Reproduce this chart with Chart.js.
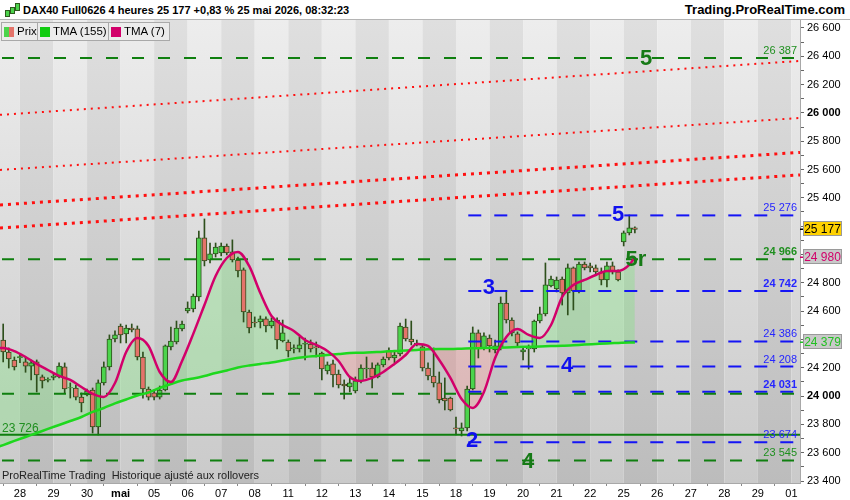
<!DOCTYPE html>
<html>
<head>
<meta charset="utf-8">
<script src="https://cdn.jsdelivr.net/npm/chart.js@4.4.1/dist/chart.umd.min.js"></script>
<style>
body { margin: 0; background: #fff; font-family: Arial, "Liberation Sans", sans-serif; }
#wrap { position: relative; width: 850px; height: 500px; overflow: hidden; }
canvas { position: absolute; left: 0; top: 0; }
#head { position: absolute; left: 0; top: 0; width: 850px; height: 19px; background: #fff; border-bottom: 1px solid #b4b4b4; }
#title { position: absolute; left: 23px; top: 4px; font: bold 11px Arial, "Liberation Sans", sans-serif; color: #000; }
#site { position: absolute; right: 5px; top: 2px; font: bold 13px Arial, "Liberation Sans", sans-serif; color: #000; }
.ic { position: absolute; width: 3px; background: #4cd44c; border: 1px solid #2e5a1e; }
.leg { position: absolute; top: 22px; height: 17px; background: rgba(236,236,236,0.9); border: 1px solid #a9a9a9; font: 11.5px Arial, "Liberation Sans", sans-serif; line-height: 17px; color: #000; }
.sq { position: absolute; left: 2px; top: 4px; width: 10px; height: 10px; }
.leg span { position: absolute; left: 15px; top: 0; white-space: nowrap; }
#note { position: absolute; left: 2px; top: 469px; font: 11px Arial, "Liberation Sans", sans-serif; color: #222; white-space: pre; }
</style>
</head>
<body>
<div id="wrap">
<canvas id="c" width="850" height="500"></canvas>
<div id="head">
  <div class="ic" style="left:5px;top:10px;height:5px"></div>
  <div class="ic" style="left:10px;top:7px;height:5px"></div>
  <div class="ic" style="left:15px;top:3px;height:6px"></div>
  <div id="title">DAX40 Full0626 4 heures 25 177 +0,83 % 25 mai 2026, 08:32:23</div>
  <div id="site">Trading.ProRealTime.com</div>
</div>
<div class="leg" style="left:1px;width:35px"><div class="sq" style="background:linear-gradient(90deg,#4cd44c 50%,#e4736a 50%)"></div><span>Prix</span></div>
<div class="leg" style="left:37px;width:70px"><div class="sq" style="background:#11cc11"></div><span>TMA (155)</span></div>
<div class="leg" style="left:108px;width:60px"><div class="sq" style="background:#d2006a"></div><span>TMA (7)</span></div>
<div id="note">ProRealTime Trading  Historique ajusté aux rollovers</div>
</div>
<script>
// 4h candles, index 0 = 27 avr 12:00, 6 candles per trading day
const opens = [
  24396,24311,24255,24272,24241,24212,24241,24135,24112,24131,
  24135,24206,24057,24057,23993,24008,24043,23782,24093,24206,
  24403,24495,24439,24481,24474,24276,24050,24022,23993,24043,
  24347,24382,24474,24601,24615,24700,25117,24961,25004,25011,
  25060,25018,24961,24891,24594,24523,24523,24545,24495,24537,
  24389,24382,24333,24333,24366,24368,24347,24304,24177,24227,
  24156,24085,24064,24036,24107,24191,24198,24135,24220,24319,
  24269,24297,24488,24403,24375,24347,24198,24142,24093,23986,
  23986,23775,23754,23775,24050,24446,24340,24410,24326,24347,
  24657,24537,24439,24311,24333,24333,24530,24580,24778,24756,
  24827,24728,24905,24742,24933,24919,24905,24877,24820,24919,
  24877,25089,25152,25188]
const highs = [
  24509,24340,24276,24290,24276,24255,24255,24149,24128,24156,
  24234,24234,24093,24078,24022,24050,24057,24114,24241,24432,
  24460,24509,24502,24509,24495,24311,24064,24043,24071,24361,
  24488,24530,24530,24665,24721,25166,25251,25081,25081,25081,
  25074,25103,24982,24905,24608,24559,24566,24559,24552,24552,
  24537,24396,24361,24418,24410,24396,24382,24311,24241,24255,
  24184,24114,24128,24135,24220,24276,24234,24234,24276,24340,
  24311,24516,24544,24530,24396,24361,24234,24340,24170,24128,
  23993,23852,23810,24071,24488,24467,24446,24432,24396,24700,
  24735,24552,24453,24347,24361,24537,24629,24940,24848,24841,
  24841,24933,24912,24947,24947,24940,24926,24905,24947,24947,
  24891,25166,25279,25195]
const lows = [
  24241,24198,24184,24235,24168,24114,24029,24057,24100,24114,
  24128,24022,23986,23972,23888,24001,23739,23725,24078,24184,
  24382,24375,24375,24453,24255,23986,23972,23972,23979,24036,
  24326,24368,24460,24587,24594,24672,24919,24940,24982,24990,
  24997,24947,24841,24523,24446,24488,24481,24453,24481,24333,
  24382,24276,24304,24311,24255,24311,24276,24114,24156,24064,
  24057,23979,24029,24022,24093,24128,24057,24128,24206,24255,
  24234,24283,24389,24361,24354,24177,24114,24064,23951,23902,
  23895,23725,23718,23754,24043,24269,24326,24311,24304,24326,
  24516,24425,24347,24255,24191,24311,24516,24566,24771,24735,
  24643,24573,24608,24728,24891,24877,24862,24785,24770,24862,
  24813,25060,25138,25152]
const closes = [
  24311,24262,24206,24278,24212,24234,24149,24107,24119,24142,
  24212,24050,24060,23993,23951,24036,23782,24093,24206,24403,
  24432,24432,24481,24467,24276,24050,23993,23993,24043,24354,
  24389,24481,24509,24622,24707,25117,24954,25004,25053,25060,
  25011,24961,24884,24594,24481,24516,24545,24495,24530,24396,
  24446,24319,24340,24361,24373,24333,24340,24191,24220,24149,
  24078,24071,24093,24107,24198,24198,24135,24220,24262,24269,
  24290,24495,24403,24382,24368,24198,24142,24093,23972,23965,
  23902,23768,23775,24050,24446,24340,24425,24354,24354,24657,
  24537,24446,24375,24326,24340,24530,24580,24785,24827,24820,
  24728,24905,24742,24933,24905,24905,24877,24820,24919,24877,
  24820,25152,25188,25177]

// moving averages (candle index -> value)
const tmaX = [-1,0,2,4,6,8,10,12,14,16,18,20,22,24,26,28,30,32,34,36,38,40,42,44,46,48,50,
  52,54,56,58,60,62,64,66,68,70,72,74,76,78,80,82,84,86,88,90,92,94,96,98,100,102,104,106,108,110,112,113]
const tma7 = [24340,24340,24318,24276,24227,24184,24142,24114,24064,24015,23994,24092,24311,24410,24354,
  24170,24099,24248,24439,24643,24848,24975,25018,24919,24728,24566,24502,24460,24396,24361,24318,
  24248,24135,24107,24128,24170,24227,24290,24368,24354,24255,24128,23979,23916,24029,24269,24417,
  24474,24432,24410,24502,24700,24785,24820,24855,24884,24884,24926,24980]
const tma155 = [23640,23654,23683,23711,23739,23768,23796,23824,23852,23888,23916,23948,23976,24004,24025,
  24057,24085,24110,24124,24142,24163,24181,24202,24216,24227,24237,24251,24266,24276,24283,24290,
  24297,24304,24306,24310,24313,24319,24322,24326,24331,24333,24333,24335,24337,24340,24341,24343,
  24346,24348,24350,24353,24355,24359,24364,24368,24372,24375,24378,24379]

// horizontal levels
const greenLevels = [26387, 24966, 24017, 23545]
const greenLabels = [26387, 24966, 23545]
const supportLevel = 23726
const blueLevels = [25276, 24742, 24386, 24208, 24031, 23674]
const boldLabels = [24966, 24742, 24031]
const blueFrom = 83.2

// channel lines: value at left edge, value at right edge
const channelStart = [25986, 25597, 25350, 25187]
const channelEnd = [26367, 25964, 25721, 25562]

// wave counts
const waveText = ['5', '5', '5r', '3', '4', '2', '4']
const waveIdx = [115, 110, 113.2, 86.9, 100.9, 83.9, 93.9]
const wavePrice = [26381, 25279, 24961, 24764, 24213, 23683, 23534]
const waveBlue = [false, true, false, true, true, true, false]

// axes
const dayTicks = [3,9,15,21,27,33,39,45,51,57,63,69,75,81,87,93,99,105,111,117,123,129,135,141]
const dayLabels = ['28','29','30','mai','05','06','07','08','11','12','13','14','15','18','19','20','21','22','25','26','27','28','29','01']
const yTicks = [23400,23500,23600,23700,23800,23900,24000,24100,24200,24300,24400,24500,24600,24700,
  24800,24900,25000,25100,25200,25300,25400,25500,25600,25700,25800,25900,26000,26100,26200,26300,
  26400,26500,26600]
const xMin = -0.57, xMax = 142.54
const yMin = 23386, yMax = 26656

const FONT = 'Arial, "Liberation Sans", sans-serif'
Chart.defaults.font.family = FONT

function fmt(v) {
  return String(Math.round(v)).replace(/\B(?=(\d{3})+(?!\d))/g, ' ')
}

const UP = '#4cd44c', DOWN = '#e4736a', EDGE = '#2e4f1c'
const GREEN_LVL = '#0f7f0f', BLUE_LVL = '#1414f5'

function hline(value, from, color, width, dash, offset) {
  return {
    type: 'line',
    data: [{x: from, y: value}, {x: xMax + 1, y: value}],
    borderColor: color, borderWidth: width,
    borderDash: dash, borderDashOffset: offset || 0, borderCapStyle: 'butt',
    pointRadius: 0, fill: false
  }
}

const datasets = []
datasets.push({
  type: 'line', label: 'TMA (7)',
  data: tmaX.map((x, i) => ({x: x, y: tma7[i]})),
  borderColor: '#d2006a', borderWidth: 2.5, pointRadius: 0,
  cubicInterpolationMode: 'monotone',
  fill: {target: '+1', above: 'rgba(100,235,100,0.27)', below: 'rgba(255,115,115,0.25)'}
})
datasets.push({
  type: 'line', label: 'TMA (155)',
  data: tmaX.map((x, i) => ({x: x, y: tma155[i]})),
  borderColor: '#1ed81e', borderWidth: 2.5, pointRadius: 0,
  cubicInterpolationMode: 'monotone', fill: false
})
greenLevels.forEach(v => datasets.push(hline(v, xMin, GREEN_LVL, 2, [12, 14], 24)))
blueLevels.forEach(v => datasets.push(hline(v, blueFrom, BLUE_LVL, 2, [13, 13], 0)))
datasets.push(hline(supportLevel, xMin, GREEN_LVL, 2, [], 0))
datasets.push({
  type: 'bar', label: 'corps', grouped: false,
  data: opens.map((o, i) => ({x: i, y: [o, closes[i]]})),
  backgroundColor: ctx => closes[ctx.dataIndex] >= opens[ctx.dataIndex] ? UP : DOWN,
  borderColor: EDGE, borderWidth: 1, borderSkipped: false, barThickness: 5
})
datasets.push({
  type: 'bar', label: 'meches', grouped: false,
  data: lows.map((l, i) => ({x: i, y: [l, highs[i]]})),
  backgroundColor: EDGE, borderWidth: 0, barThickness: 1
})
channelStart.forEach((v, i) => datasets.push({
  type: 'line', data: [{x: xMin, y: v}, {x: xMax, y: channelEnd[i]}],
  borderColor: '#ff1010', borderWidth: i < 2 ? 2 : 3,
  borderDash: i < 2 ? [2, 5] : [3, 5], borderCapStyle: 'butt',
  pointRadius: 0, fill: false
}))

const stripes = {
  id: 'stripes',
  beforeDraw(chart) {
    const {ctx, chartArea: a, scales: {x}} = chart
    const light = ctx.createLinearGradient(0, a.top, 0, a.bottom)
    light.addColorStop(0, '#ededed'); light.addColorStop(1, '#cacaca')
    const dark = ctx.createLinearGradient(0, a.top, 0, a.bottom)
    dark.addColorStop(0, '#dfdfdf'); dark.addColorStop(1, '#bcbcbc')
    const edges = [a.left].concat(dayTicks.map(t => x.getPixelForValue(t)), [a.right])
    ctx.save()
    for (let i = 0; i < edges.length - 1; i++) {
      ctx.fillStyle = i % 2 === 0 ? light : dark
      ctx.fillRect(edges[i], a.top, edges[i + 1] - edges[i], a.height)
    }
    ctx.restore()
  }
}

const marks = {
  id: 'marks',
  afterDatasetsDraw(chart) {
    const {ctx, chartArea: a, scales: {x, y}} = chart
    ctx.save()
    ctx.beginPath(); ctx.rect(a.left, a.top, a.width, a.height); ctx.clip()
    ctx.textAlign = 'right'; ctx.textBaseline = 'alphabetic'
    const levelLabel = (v, color) => {
      ctx.font = (boldLabels.includes(v) ? 'bold ' : '') + '11px ' + FONT
      ctx.fillStyle = color
      ctx.fillText(fmt(v), a.right - 3, y.getPixelForValue(v) - 4)
    }
    greenLabels.forEach(v => levelLabel(v, '#1f8f1f'))
    blueLevels.forEach(v => levelLabel(v, '#2525ff'))
    ctx.textAlign = 'left'
    ctx.font = '12px ' + FONT
    ctx.fillStyle = '#1f8f1f'
    ctx.fillText(fmt(supportLevel), a.left + 2, y.getPixelForValue(supportLevel) - 3)
    ctx.textAlign = 'center'; ctx.textBaseline = 'middle'
    ctx.font = 'bold 22px ' + FONT
    waveText.forEach((t, i) => {
      ctx.fillStyle = waveBlue[i] ? '#1010ee' : '#167a16'
      ctx.fillText(t, x.getPixelForValue(waveIdx[i]), y.getPixelForValue(wavePrice[i]))
    })
    ctx.restore()
  },
  afterDraw(chart) {
    const {ctx, chartArea: a, scales: {y}} = chart
    const box = (v, bg, fg, tick) => {
      const py = Math.round(y.getPixelForValue(v))
      ctx.fillStyle = tick
      ctx.fillRect(a.right, py - 0.5, 4, 1.5)
      ctx.fillStyle = bg
      ctx.fillRect(a.right + 3.5, py - 7.5, 38, 14)
      ctx.strokeStyle = '#9a9a9a'; ctx.lineWidth = 1
      ctx.strokeRect(a.right + 3.5, py - 7.5, 38, 14)
      ctx.fillStyle = fg
      ctx.font = '12px ' + FONT
      ctx.textAlign = 'center'; ctx.textBaseline = 'middle'
      ctx.fillText(fmt(v), a.right + 22.5, py + 0.5)
    }
    ctx.save()
    box(tma155[tma155.length - 1], '#c9c9c9', '#22c022', '#22c022')
    box(tma7[tma7.length - 1], '#c9c9c9', '#d2006a', '#d2006a')
    box(closes[closes.length - 1], '#ffd200', '#000', '#000')
    ctx.restore()
  }
}

new Chart(document.getElementById('c'), {
  type: 'line',
  data: {datasets: datasets},
  options: {
    responsive: false,
    animation: false,
    events: [],
    layout: {padding: {top: 20, left: 0, right: 0, bottom: 0}},
    plugins: {
      legend: {display: false},
      tooltip: {enabled: false},
      filler: {drawTime: 'beforeDatasetsDraw'}
    },
    scales: {
      x: {
        type: 'linear', min: xMin, max: xMax, offset: false,
        afterFit(s) { s.height = 17 },
        afterBuildTicks(s) { s.ticks = dayTicks.map(v => ({value: v})) },
        grid: {drawOnChartArea: false, tickLength: 3, color: '#888'},
        border: {color: '#a8a8a8'},
        ticks: {
          autoSkip: false, maxRotation: 0, padding: 1, color: '#000',
          font: ctx => ({size: 11, weight: ctx.tick && dayLabels[dayTicks.indexOf(ctx.tick.value)] === 'mai' ? 'bold' : 'normal'}),
          callback: v => dayLabels[dayTicks.indexOf(v)]
        }
      },
      y: {
        type: 'linear', position: 'right', min: yMin, max: yMax,
        afterFit(s) { s.width = 50 },
        afterBuildTicks(s) { s.ticks = yTicks.map(v => ({value: v})) },
        grid: {drawOnChartArea: false, tickLength: 4, color: '#666'},
        border: {color: '#a8a8a8'},
        ticks: {
          autoSkip: false, padding: 3, color: '#000',
          font: ctx => ({size: 11, weight: ctx.tick && ctx.tick.value % 1000 === 0 ? 'bold' : 'normal'}),
          callback: v => v % 200 === 0 ? fmt(v) : ''
        }
      }
    }
  },
  plugins: [stripes, marks]
})
</script>
</body>
</html>
